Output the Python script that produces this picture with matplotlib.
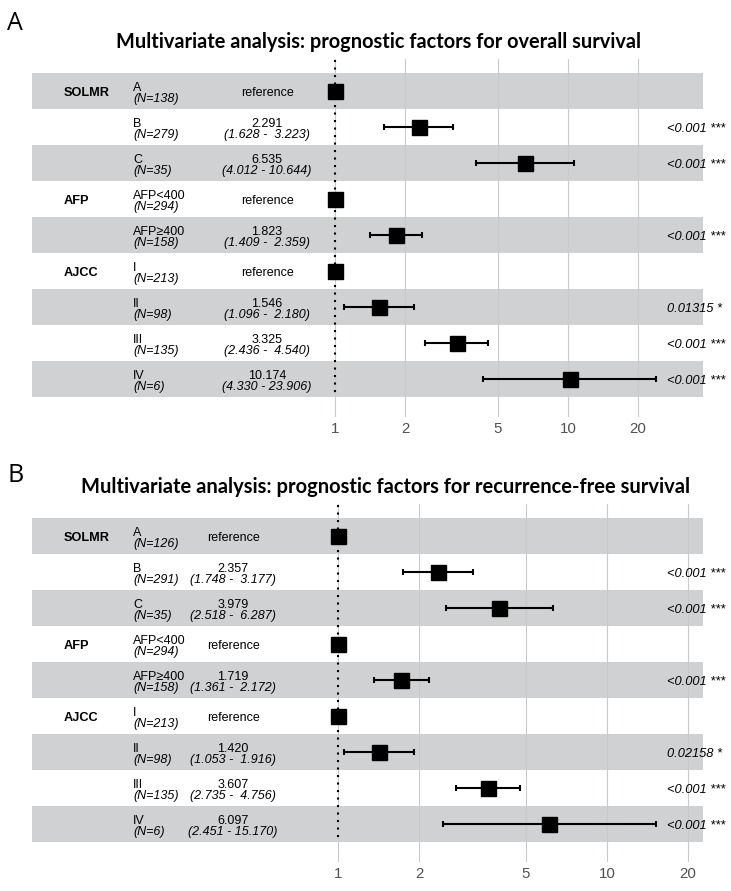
import matplotlib
matplotlib.use("Agg")
import matplotlib.pyplot as plt
from matplotlib import transforms

plt.rcParams["font.family"] = ["Liberation Sans", "DejaVu Sans"]

# ── Datos ────────────────────────────────────────────────────────────────────
variables = ["SOLMR", "", "", "AFP", "", "AJCC", "", "", ""]
levels = ["A", "B", "C", "AFP<400", "AFP≥400", "I", "II", "III", "IV"]

# A: overall survival
n_os = [138, 279, 35, 294, 158, 213, 98, 135, 6]
hr_os = [1, 2.291, 6.535, 1, 1.823, 1, 1.546, 3.325, 10.174]
lo_os = [None, 1.628, 4.012, None, 1.409, None, 1.096, 2.436, 4.330]
hi_os = [None, 3.223, 10.644, None, 2.359, None, 2.180, 4.540, 23.906]
p_os = ["", "<0.001 ***", "<0.001 ***", "", "<0.001 ***", "", "0.01315 *", "<0.001 ***", "<0.001 ***"]

# B: recurrence-free survival
n_rfs = [126, 291, 35, 294, 158, 213, 98, 135, 6]
hr_rfs = [1, 2.357, 3.979, 1, 1.719, 1, 1.420, 3.607, 6.097]
lo_rfs = [None, 1.748, 2.518, None, 1.361, None, 1.053, 2.735, 2.451]
hi_rfs = [None, 3.177, 6.287, None, 2.172, None, 1.916, 4.756, 15.170]
p_rfs = ["", "<0.001 ***", "<0.001 ***", "", "<0.001 ***", "", "0.02158 *", "<0.001 ***", "<0.001 ***"]

ticks = [1, 2, 5, 10, 20]

# ── Estilo ───────────────────────────────────────────────────────────────────
W, H, DPI = 731, 891, 100
BANDA = "#cfd1d2"
GRILLA = "#c8cacc"
ROW_H = 36
LEFT, RIGHT = 32, 703
FS = 9.0

fig = plt.figure(figsize=(W / DPI, H / DPI), dpi=DPI)


def panel(top, x_one, decade, hr_x, hr, lo, hi, ns, pv, letter, letter_y, title, title_y, title_w, title_cx):
    nrows = len(levels)
    ax_top = top - 14
    ax_bot = top + nrows * ROW_H + 20
    ax = fig.add_axes([LEFT / W, 1 - ax_bot / H, (RIGHT - LEFT) / W, (ax_bot - ax_top) / H])
    ax.set_xscale("log")
    ax.set_xlim(10 ** ((LEFT - x_one) / decade), 10 ** ((RIGHT - x_one) / decade))
    ax.set_ylim((ax_bot - top - ROW_H / 2) / ROW_H, (ax_top - top - ROW_H / 2) / ROW_H)
    for s in ax.spines.values():
        s.set_visible(False)

    for i in range(0, nrows, 2):
        ax.axhspan(i - 0.5, i + 0.5, color=BANDA, lw=0, zorder=0)

    ax.set_xticks(ticks)
    ax.set_xticklabels([str(t) for t in ticks])
    ax.minorticks_off()
    ax.set_yticks([])
    ax.tick_params(axis="x", length=0, pad=3.5, labelsize=10.8, labelcolor="#505050")
    ax.grid(axis="x", color=GRILLA, lw=0.8, zorder=1)

    ax.plot([1, 1], [-0.5 - 13 / ROW_H, nrows - 0.5 - 4 / ROW_H], color="black",
            lw=1.5, linestyle=(0, (1, 2.6)), zorder=2)

    rows = list(range(nrows))
    for i in rows:
        if lo[i] is not None:
            ax.errorbar(hr[i], i, xerr=[[hr[i] - lo[i]], [hi[i] - hr[i]]], fmt="none",
                        ecolor="black", elinewidth=1.5, capsize=2.5, capthick=1.5, zorder=3)
    ax.plot(hr, rows, "s", ms=10.8, color="black", zorder=4)

    tr = transforms.blended_transform_factory(fig.transFigure, ax.transData)
    px = lambda x: x / W
    off = lambda p: p / ROW_H
    for i in rows:
        if variables[i]:
            ax.text(px(64), i + off(5), variables[i], transform=tr, ha="left", va="baseline",
                    fontsize=9.2, fontweight="bold")
        ax.text(px(133), i + off(0), levels[i], transform=tr, ha="left", va="baseline", fontsize=FS)
        ax.text(px(133), i + off(10.5), f"(N={ns[i]})", transform=tr, ha="left", va="baseline",
                fontsize=FS, style="italic")
        if lo[i] is None:
            ax.text(px(hr_x), i + off(5), "reference", transform=tr, ha="center", va="baseline", fontsize=FS)
        else:
            ax.text(px(hr_x), i + off(0), f"{hr[i]:.3f}", transform=tr, ha="center", va="baseline",
                    fontsize=FS)
            ax.text(px(hr_x), i + off(10.5), f"({lo[i]:.3f} - {hi[i]:6.3f})", transform=tr, ha="center",
                    va="baseline", fontsize=FS, style="italic")
        if pv[i]:
            ax.text(px(667), i + off(5), pv[i], transform=tr, ha="left", va="baseline", fontsize=9.3,
                    style="italic")

    fig.text(7 / W, 1 - letter_y / H, letter, ha="left", va="center", fontsize=18, family="Open Sans")
    t = fig.text(title_cx / W, 1 - title_y / H, title, ha="center", va="center", fontsize=12,
                 fontweight="bold", family="Lato")
    w = t.get_window_extent(fig.canvas.get_renderer()).width
    t.set_fontsize(12 * title_w / w)


panel(73.3, 335, 233, 267, hr_os, lo_os, hi_os, n_os, p_os, "A", 23,
      "Multivariate analysis: prognostic factors for overall survival", 42, 522, 379)
panel(518, 338, 269, 233, hr_rfs, lo_rfs, hi_rfs, n_rfs, p_rfs, "B", 476,
      "Multivariate analysis: prognostic factors for recurrence-free survival", 487, 607, 386)

fig.savefig("out.png", dpi=DPI)
